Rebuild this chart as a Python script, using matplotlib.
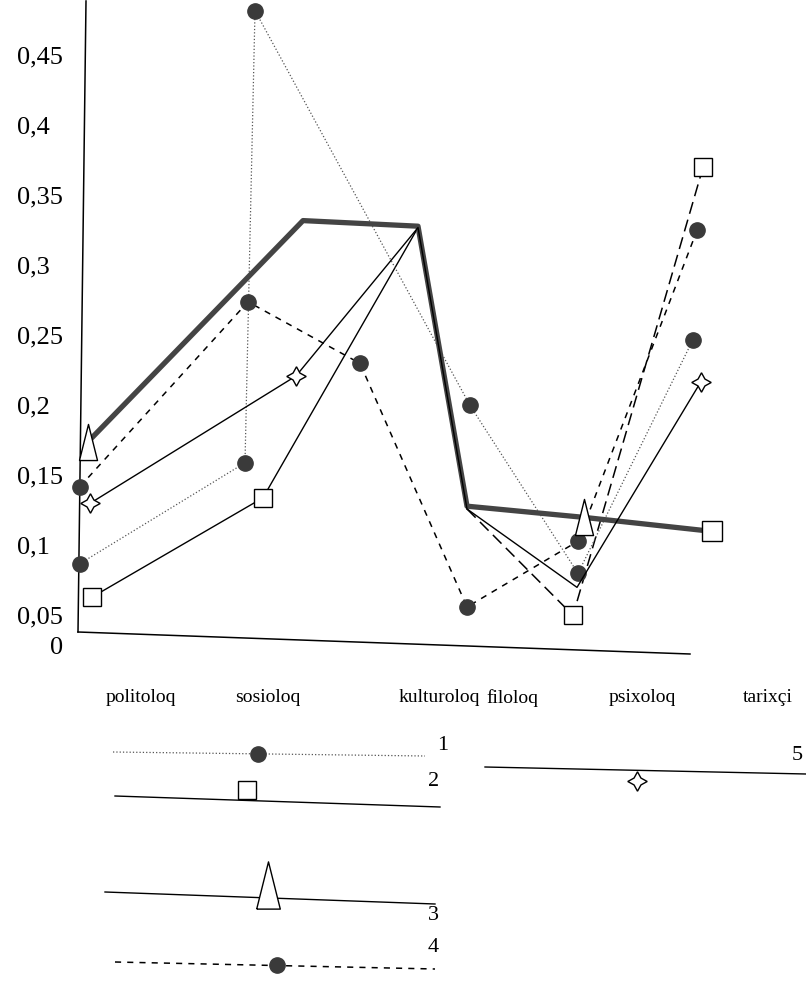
import matplotlib
matplotlib.use('Agg')
import matplotlib.pyplot as plt

plt.rcParams['font.family'] = ['Liberation Serif', 'DejaVu Serif']

categories = ['politoloq', 'sosioloq', 'kulturoloq', 'filoloq', 'psixoloq', 'tarixçi']
cat_pos = [0.61, 1.88, 3.59, 4.32, 5.62, 6.88]

# series 1: dotted line, filled circles
x1 = [0.0, 1.65, 1.75, 3.90, 4.98, 6.13]
y1 = [0.086, 0.158, 0.481, 0.199, 0.079, 0.246]
# series 2: squares
x2 = [0.12, 1.83, 3.38, 3.87, 4.93, 6.23]
y2 = [0.062, 0.133, 0.326, 0.125, 0.049, 0.369]
# series 3: thick line, triangles
x3 = [0.08, 2.23, 3.38, 3.87, 5.04, 6.32]
y3 = [0.173, 0.331, 0.327, 0.127, 0.119, 0.109]
# series 4: dashed line, filled circles
x4 = [0.0, 1.68, 2.80, 3.87, 4.98, 6.17]
y4 = [0.141, 0.273, 0.229, 0.055, 0.102, 0.324]
# series 5: thin line, stars
x5 = [0.10, 2.16, 3.38, 3.87, 4.97, 6.21]
y5 = [0.129, 0.220, 0.326, 0.125, 0.069, 0.216]

yticks = [0.05, 0.1, 0.15, 0.2, 0.25, 0.3, 0.35, 0.4, 0.45]

dark = '#3a3a3a'
tri = [(-0.5, -1), (0.5, -1), (0, 1), (-0.5, -1)]
star = (4, 1, 0)

fig = plt.figure(figsize=(8.06, 9.95), dpi=100)

# overlay in pixel coords for axis lines and the hand-drawn legend
ov = fig.add_axes([0, 0, 1, 1])
ov.set_xlim(0, 806)
ov.set_ylim(995, 0)
ov.axis('off')

ax = fig.add_axes([0, 0.3116, 1, 0.6884])
ax.set_xlim(-0.8, 7.26)
ax.set_ylim(0, 0.4893)
ax.patch.set_alpha(0)
for s in ax.spines.values():
    s.set_visible(False)

# axis lines (slightly skewed as in the scan)
ov.plot([86, 78], [2, 633], color='black', lw=1.1)
ov.plot([78, 690], [633, 655], color='black', lw=1.1)

ax.plot(x1, y1, ls=':', color='#555555', lw=0.9, marker='o', ms=11,
        mfc=dark, mec=dark, zorder=3)
ax.plot(x4, y4, ls='--', dashes=(4, 4), color='black', lw=1.1, marker='o',
        ms=11, mfc=dark, mec=dark, zorder=3)
ax.plot(x2[:4], y2[:4], '-', color='black', lw=1.0, zorder=2)
ax.plot(x2[3:], y2[3:], color='black', lw=1.1, dashes=(8, 4), zorder=2)
ax.plot(x2, y2, ls='none', marker='s', ms=13, mfc='white', mec='black',
        mew=1.0, markevery=[0, 1, 4, 5], zorder=4)
ax.plot(x5, y5, '-', color='black', lw=1.0, marker=star, ms=14, mfc='white',
        mec='black', markevery=[0, 1, 5], zorder=4)
ax.plot(x3, y3, '-', color='#444444', lw=3.8, zorder=3)
ax.plot(x3, y3, ls='none', marker=tri, ms=26, mfc='white', mec='black',
        mew=1.0, markevery=[0, 4], zorder=5)
ax.plot(x3, y3, ls='none', marker='s', ms=15, mfc='white', mec='black',
        mew=1.0, markevery=[5], zorder=5)

ax.set_yticks(yticks)
ax.set_yticklabels([('%g' % t).replace('.', ',') for t in yticks], fontsize=19)
for lab in ax.get_yticklabels():
    lab.set_horizontalalignment('left')
ax.tick_params(axis='y', length=0, pad=-12, direction='in')
ax.set_xticks(cat_pos)
ax.set_xticklabels(categories, fontsize=14)
ax.tick_params(axis='x', length=0, pad=3)
ov.text(50, 648, '0', fontsize=19, va='center', ha='left')

# legend drawn by hand
ov.plot([113, 425], [753, 757], ls=':', color='#555555', lw=0.9)
ov.plot([258], [755], 'o', ms=11, mfc=dark, mec=dark)
ov.text(437, 746, '1', fontsize=16, va='center')

ov.plot([115, 440], [797, 808], '-', color='black', lw=1.0)
ov.plot([247], [791], 's', ms=13, mfc='white', mec='black')
ov.text(428, 782, '2', fontsize=16, va='center')

ov.plot([105, 435], [893, 905], '-', color='black', lw=1.0)
ov.plot([268], [886], marker=tri, ms=34, mfc='white', mec='black', ls='none')
ov.text(428, 916, '3', fontsize=16, va='center')

ov.plot([115, 435], [963, 970], color='black', lw=1.1, dashes=(4, 4))
ov.plot([277], [966], 'o', ms=11, mfc=dark, mec=dark)
ov.text(428, 948, '4', fontsize=16, va='center')

ov.plot([485, 806], [768, 775], '-', color='black', lw=1.0)
ov.plot([637], [782], marker=star, ms=14, mfc='white', mec='black', ls='none')
ov.text(792, 756, '5', fontsize=16, va='center')

plt.savefig('out.png', dpi=100)
plt.close('all')
